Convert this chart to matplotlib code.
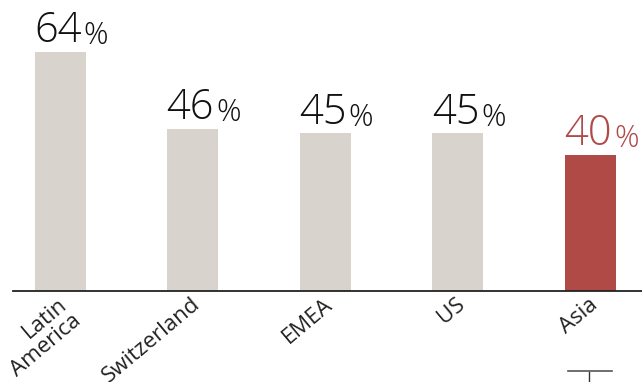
import matplotlib
matplotlib.use("Agg")
import matplotlib.pyplot as plt
from matplotlib.lines import Line2D
import matplotlib.transforms as mtrans

categories = ["Latin\nAmerica", "Switzerland", "EMEA", "US", "Asia"]
values = [64, 46, 45, 45, 40]
labels = ["64", "46", "45", "45", "40"]
colors = ["#d8d3cd", "#d8d3cd", "#d8d3cd", "#d8d3cd", "#b04a47"]
label_colors = ["#111111", "#111111", "#111111", "#111111", "#b04a47"]

plt.rcParams["font.family"] = ["Open Sans", "DejaVu Sans"]

fig = plt.figure(figsize=(6.42, 3.82), dpi=100)
ax = fig.add_axes([13/642, 91/382, 629/642, 291/382])

width = 0.384
x = list(range(len(categories)))
ax.bar(x, values, width=width, color=colors, zorder=2)

ax.set_xlim(-0.355, 4.388)
ax.set_ylim(8.3, 76.1)

for xi, v, lab, c in zip(x, values, labels, label_colors):
    t = ax.annotate(lab, xy=(xi - width/2, v), xytext=(-0.5, 7), textcoords="offset points",
                    ha="left", va="baseline", fontsize=30, color=c, fontweight="light")
    ax.annotate("%", xy=(1, 0), xycoords=t, xytext=(1.5, 0), textcoords="offset points",
                ha="left", va="bottom", fontsize=22, color=c, fontweight="light")

for s in ["left", "right", "top"]:
    ax.spines[s].set_visible(False)
ax.spines["bottom"].set_color("#222222")
ax.spines["bottom"].set_linewidth(1.3)
ax.set_yticks([])
ax.set_xticks(x)
ax.set_xticklabels(categories, rotation=40, ha="right", rotation_mode="anchor",
                   fontsize=16, color="#222222", linespacing=1.05)
ax.tick_params(axis="x", length=0, pad=2)

offset = mtrans.ScaledTranslation(-2/100, 0, fig.dpi_scale_trans)
for lbl in ax.get_xticklabels():
    lbl.set_transform(lbl.get_transform() + offset)

# small mark bottom right
fig.add_artist(Line2D([568/642, 612/642], [1 - 371/382, 1 - 371/382], color="#555555", lw=1.2))
fig.add_artist(Line2D([589/642, 589/642], [1 - 372/382, 0], color="#333333", lw=1.0))

fig.savefig("out.png", dpi=100)
